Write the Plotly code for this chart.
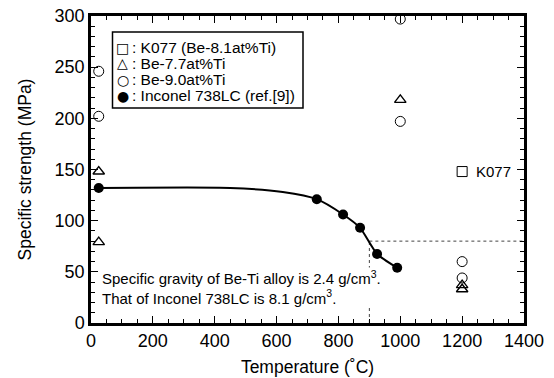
import plotly.graph_objects as go

# ---- data ----
k077_T = [1200]
k077_S = [148]

be77_T = [25, 25, 1000, 1200, 1200]
be77_S = [148, 79, 218, 37, 33]

be90_T = [25, 25, 1000, 1000, 1200, 1200]
be90_S = [246, 202, 297, 197, 60, 44]

inc_T = [25, 730, 815, 870, 925, 990]
inc_S = [132, 121, 106, 93, 67.5, 54]

# fitted curve through Inconel data
curve_T = [25, 450, 620, 730, 815, 870, 925, 990]
curve_S = [132, 132, 128, 121, 106, 93, 67.5, 54]

ref_T = 900
ref_S = 80

legend_lines = [
    ("\u25a1", ": K077 (Be-8.1at%Ti)"),
    ("\u25b3", ": Be-7.7at%Ti"),
    ("\u25cb", ": Be-9.0at%Ti"),
    ("\u25cf", ": Inconel 738LC (ref.[9])"),
]
note_text = ("Specific gravity of Be-Ti alloy is 2.4 g/cm<sup>3</sup>.<br>"
             "That of Inconel 738LC is 8.1 g/cm<sup>3</sup>.")

FONT = "Liberation Sans, Arial, Helvetica, sans-serif"
W, H = 554, 378
L, R, T, B = 91, 524, 16, 323


def px(p):
    return (p - L) / (R - L)


def py(p):
    return (B - p) / (B - T)


fig = go.Figure()

fig.add_trace(go.Scatter(x=curve_T, y=curve_S, mode="lines",
                         line=dict(color="black", width=2, shape="spline", smoothing=0.6),
                         showlegend=False, hoverinfo="skip"))
fig.add_trace(go.Scatter(x=inc_T, y=inc_S, mode="markers", name="Inconel 738LC (ref.[9])",
                         marker=dict(symbol="circle", size=10, color="black")))
fig.add_trace(go.Scatter(x=k077_T, y=k077_S, mode="markers", name="K077 (Be-8.1at%Ti)",
                         marker=dict(symbol="square-open", size=10, color="black", line=dict(width=1))))
fig.add_trace(go.Scatter(x=be77_T, y=be77_S, mode="markers", name="Be-7.7at%Ti",
                         marker=dict(symbol="triangle-up-open", size=10, color="black", line=dict(width=1.4))))
fig.add_trace(go.Scatter(x=be90_T, y=be90_S, mode="markers", name="Be-9.0at%Ti",
                         marker=dict(symbol="circle-open", size=10, color="black", line=dict(width=1))))
for tr in fig.data:
    tr.cliponaxis = False

# dotted reference lines
fig.add_shape(type="line", x0=ref_T, x1=ref_T, y0=0, y1=ref_S,
              line=dict(color="#444", width=1, dash="dot"), layer="below")
fig.add_shape(type="line", x0=ref_T, x1=1400, y0=ref_S, y1=ref_S,
              line=dict(color="#444", width=1, dash="dot"), layer="below")

# legend box
fig.add_shape(type="rect", xref="paper", yref="paper",
              x0=px(112.5), x1=px(303), y0=py(108), y1=py(32),
              line=dict(color="black", width=1.5), fillcolor="white", layer="above")

ys = [47.5, 63.5, 79.5, 95.5]
for (sym, txt), yy in zip(legend_lines, ys):
    fig.add_annotation(xref="paper", yref="paper", x=px(122.5), y=py(yy), text=sym,
                       showarrow=False, xanchor="center", yanchor="middle",
                       font=dict(family="DejaVu Sans", size=14, color="black"))
    fig.add_annotation(xref="paper", yref="paper", x=px(129.5), y=py(yy), text=txt,
                       showarrow=False, xanchor="left", yanchor="middle",
                       font=dict(family=FONT, size=15.5, color="black"))

# K077 label
fig.add_annotation(x=k077_T[0], y=k077_S[0], text="K077", showarrow=False,
                   xanchor="left", yanchor="middle", xshift=12,
                   font=dict(family=FONT, size=15, color="black"))

# note
fig.add_annotation(xref="paper", yref="paper", x=px(101), y=py(287), text=note_text,
                   showarrow=False, xanchor="left", yanchor="middle", align="left",
                   bgcolor="white", borderpad=0,
                   font=dict(family=FONT, size=15, color="black"))

axis_common = dict(
    showline=True, linecolor="black", linewidth=2.5, mirror="ticks",
    ticks="inside", ticklen=7, tickwidth=1.2, tickcolor="black",
    showgrid=False, zeroline=False, automargin=False,
    tickfont=dict(family=FONT, size=18, color="black"),
)

fig.update_layout(
    width=W, height=H,
    margin=dict(l=L, r=W - R, t=T, b=H - B),
    plot_bgcolor="white", paper_bgcolor="white",
    showlegend=False,
    font=dict(family=FONT, color="black"),
    xaxis=dict(range=[0, 1400], dtick=200, tick0=0,
               minor=dict(dtick=50, ticklen=4, ticks="inside", tickcolor="black", tickwidth=1),
               title=dict(text="Temperature (\u02daC)", font=dict(family=FONT, size=17.5), standoff=11),
               **axis_common),
    yaxis=dict(range=[0, 300], dtick=50, tick0=0,
               minor=dict(dtick=10, ticklen=4, ticks="inside", tickcolor="black", tickwidth=1),
               title=dict(text="Specific strength (MPa)", font=dict(family=FONT, size=17.5), standoff=19),
               **axis_common),
)

fig.write_html("out.html")
